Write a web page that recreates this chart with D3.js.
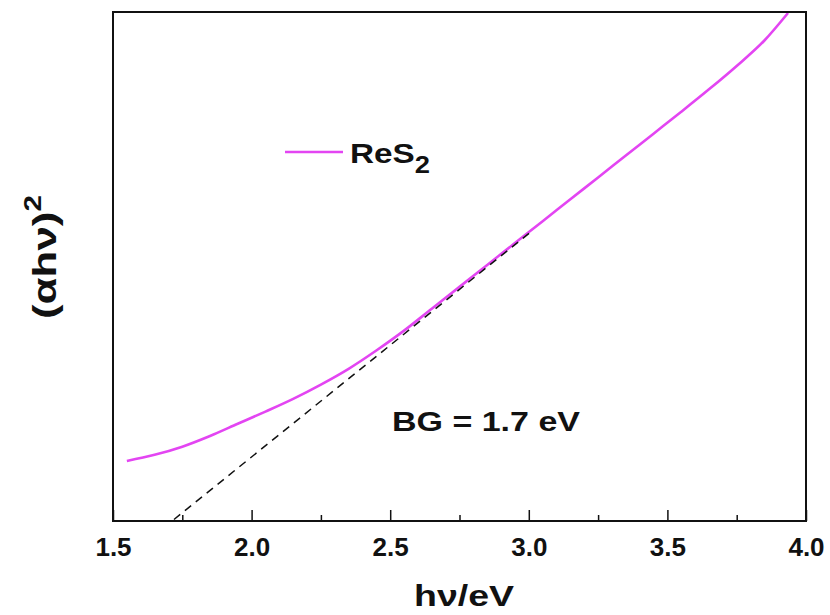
<!DOCTYPE html>
<html>
<head>
<meta charset="utf-8">
<script src="https://cdn.jsdelivr.net/npm/d3@7"></script>
<style>
  body { margin: 0; background: #fff; }
  text { font-family: "Liberation Sans", Arial, sans-serif; font-weight: bold; fill: #111; }
</style>
</head>
<body>
<div id="chart"></div>
<script>
// photon energy (eV) and (alpha h nu)^2 in arbitrary units
const energy = [1.55, 1.65, 1.75, 1.85, 1.95, 2.05, 2.15, 2.25, 2.35, 2.45, 2.55, 2.65, 2.75,
  2.85, 2.95, 3.05, 3.15, 3.25, 3.35, 3.45, 3.55, 3.65, 3.75, 3.85, 3.935];
const absorb = [11.8, 13.0, 14.6, 16.7, 19.1, 21.5, 24.0, 26.8, 29.9, 33.5, 37.4, 41.7, 46.0,
  50.3, 54.6, 58.9, 63.2, 67.5, 71.8, 76.1, 80.4, 84.8, 89.4, 94.4, 99.8];

// tangent used for the band gap estimate
const fitX = [1.72, 3.014];
const fitY = [0.3, 57.1];

const xTicks = [1.5, 2.0, 2.5, 3.0, 3.5, 4.0];
const xMinor = [1.75, 2.25, 2.75, 3.25, 3.75];

const width = 830, height = 615;
const margin = {top: 12, right: 24, bottom: 94, left: 113};

const svg = d3.select('#chart').append('svg')
  .attr('width', width)
  .attr('height', height);

const x = d3.scaleLinear().domain([1.5, 4.0]).range([margin.left, width - margin.right]);
const y = d3.scaleLinear().domain([0, 100]).range([height - margin.bottom, margin.top]);

const magenta = '#e345f2';

// curve
const data = energy.map(function(e, i) { return [e, absorb[i]]; });
const line = d3.line()
  .x(function(d) { return x(d[0]); })
  .y(function(d) { return y(d[1]); })
  .curve(d3.curveMonotoneX);

svg.append('path')
  .datum(data)
  .attr('d', line)
  .attr('fill', 'none')
  .attr('stroke', magenta)
  .attr('stroke-width', 2.6);

// dashed fit line
svg.append('path')
  .datum(fitX.map(function(e, i) { return [e, fitY[i]]; }))
  .attr('d', d3.line().x(function(d) { return x(d[0]); }).y(function(d) { return y(d[1]); }))
  .attr('fill', 'none')
  .attr('stroke', '#111')
  .attr('stroke-width', 1.5)
  .attr('stroke-dasharray', '8,6');

// axes
const xAxis = svg.append('g')
  .attr('transform', 'translate(0,' + y(0) + ')')
  .call(d3.axisBottom(x).tickValues(xTicks).tickSize(-11).tickPadding(17)
    .tickFormat(d3.format('.1f')));
xAxis.select('.domain').remove();
xAxis.selectAll('.tick line').attr('stroke', '#111').attr('stroke-width', 1.5);
xAxis.selectAll('.tick text')
  .attr('font-family', '"Liberation Sans", Arial, sans-serif')
  .attr('font-weight', 'bold')
  .attr('font-size', 26)
  .attr('fill', '#111');

svg.append('g')
  .attr('transform', 'translate(0,' + y(0) + ')')
  .call(d3.axisBottom(x).tickValues(xMinor).tickSize(-6).tickFormat(''))
  .call(function(g) { g.select('.domain').remove(); })
  .selectAll('.tick line').attr('stroke', '#111').attr('stroke-width', 1.5);

// frame
svg.append('rect')
  .attr('x', x(1.5))
  .attr('y', y(100))
  .attr('width', x(4.0) - x(1.5))
  .attr('height', y(0) - y(100))
  .attr('fill', 'none')
  .attr('stroke', '#111')
  .attr('stroke-width', 2);

// axis titles
svg.append('text')
  .attr('x', 464)
  .attr('y', 606)
  .attr('text-anchor', 'middle')
  .attr('font-size', 30)
  .attr('textLength', 100)
  .attr('lengthAdjust', 'spacingAndGlyphs')
  .text('hν/eV');

svg.append('text')
  .attr('transform', 'translate(56,257) rotate(-90)')
  .attr('text-anchor', 'middle')
  .attr('font-size', 34)
  .attr('textLength', 124)
  .attr('lengthAdjust', 'spacingAndGlyphs')
  .html('(αhν)<tspan dy="-15" font-size="23">2</tspan>');

// legend
svg.append('line')
  .attr('x1', 285).attr('x2', 343)
  .attr('y1', 152).attr('y2', 152)
  .attr('stroke', magenta)
  .attr('stroke-width', 2.6);

svg.append('text')
  .attr('x', 350)
  .attr('y', 163)
  .attr('font-size', 28)
  .attr('textLength', 80)
  .attr('lengthAdjust', 'spacingAndGlyphs')
  .html('ReS<tspan dy="10" font-size="23">2</tspan>');

svg.append('text')
  .attr('x', 392)
  .attr('y', 431)
  .attr('font-size', 28)
  .attr('textLength', 188)
  .attr('lengthAdjust', 'spacingAndGlyphs')
  .text('BG = 1.7 eV');
</script>
</body>
</html>
